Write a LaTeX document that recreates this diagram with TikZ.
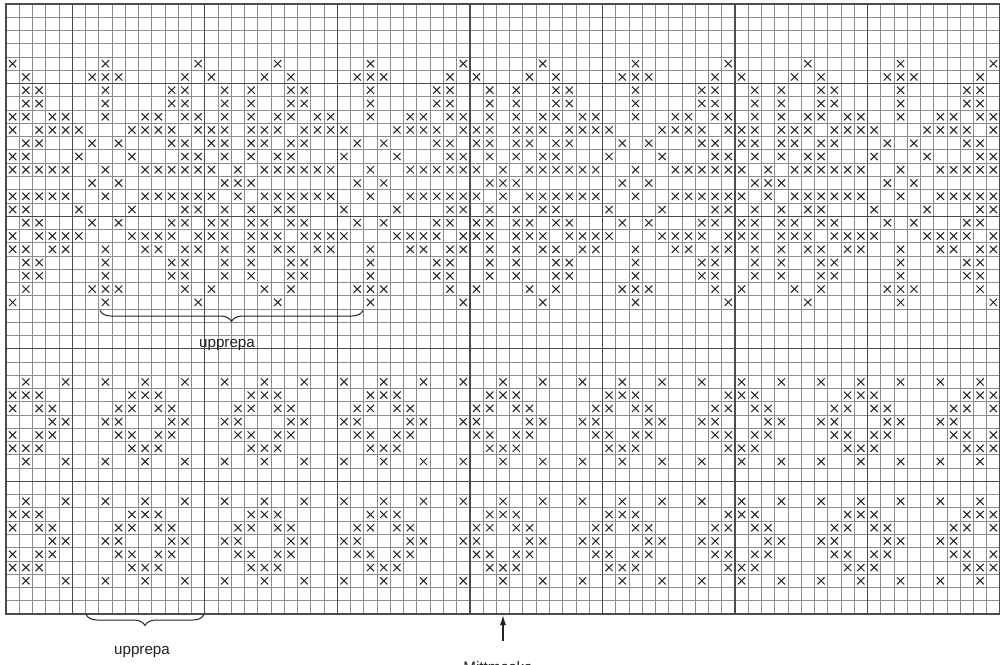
\documentclass[tikz,border=0pt]{standalone}
\usepackage{fontspec}
\setmainfont{Liberation Sans}
\usetikzlibrary{decorations.pathreplacing,arrows.meta}
\definecolor{thingrid}{RGB}{140,140,140}
\definecolor{thickgrid}{RGB}{75,75,75}
\definecolor{ink}{RGB}{35,35,35}
\def\cw{13.2533}
\def\ch{13.26}
\newcommand\drawx[2]{%
  \pgfmathsetmacro\xcx{6+(#1+0.5)*\cw}%
  \pgfmathsetmacro\ycy{4+(#2+0.5)*\ch}%
  \draw[xm] ({\xcx-3.6},{\ycy-3.6}) -- ({\xcx+3.6},{\ycy+3.6}) ({\xcx-3.6},{\ycy+3.6}) -- ({\xcx+3.6},{\ycy-3.6});}
\begin{document}
\begin{tikzpicture}[x=1pt,y=-1pt,
  thinline/.style={draw=thingrid,line width=0.8pt},
  thickline/.style={draw=thickgrid,line width=1.3pt},
  xm/.style={draw=ink,line width=1pt},
  lbl/.style={font=\fontsize{15.2}{18}\selectfont, text=ink, inner sep=0pt, anchor=base},
  bracestyle/.style={draw=ink,line width=1pt,decorate,decoration={brace,mirror,amplitude=11pt}}
]
\useasboundingbox (0,0) rectangle (1000,664);
\fill[white] (0,0) rectangle (1000,664);
% thin grid
\foreach \i in {0,...,75} \draw[thinline] ({6+\i*\cw},4) -- ({6+\i*\cw},614);
\foreach \j in {0,...,46} \draw[thinline] (6,{4+\j*\ch}) -- (1000,{4+\j*\ch});
% thick grid
\foreach \i in {5,15,...,65} \draw[thickline] ({6+\i*\cw},4) -- ({6+\i*\cw},614);
\foreach \j in {6,16,26,36} \draw[thickline] (6,{4+\j*\ch}) -- (1000,{4+\j*\ch});
\draw[thickline] (6,4) rectangle (1000,614);
% upper pattern (period 20)
\foreach \rows/\lst in {{4,22}/{0,7,14}, {5,21}/{1,6,7,8,13,15,19}, {6,7,19,20}/{1,2,7,12,13,16,18}, {8,18}/{0,1,3,4,7,10,11,13,14,16,18}, {9,17}/{0,2,3,4,5,9,10,11,12,14,15,16,18,19}, {10,16}/{1,2,6,8,12,13,15,16,18,19}, {11,15}/{0,1,5,9,13,14,16,18}, {12,14}/{0,1,2,3,4,7,10,11,12,13,14,15,17,19}, {13}/{6,8,16,17,18}} {
  \foreach \r in \rows {
    \foreach \b in {0,20,40,60} {
      \foreach \m in \lst {
        \pgfmathtruncatemacro\cc{\b+\m}
        \ifnum\cc<75 \drawx{\cc}{\r}\fi
      }
    }
  }
}
% lower patterns (period 9)
\foreach \rows/\lst/\per in {{28,34,37,43}/{1}/3, {29,33,38,42}/{0,1,2}/9, {30,32,39,41}/{0,2,3,8}/9, {31,40}/{3,4,7,8}/9} {
  \foreach \r in \rows {
    \foreach \n in {0,...,24} {
      \foreach \m in \lst {
        \pgfmathtruncatemacro\cc{\n*\per+\m}
        \ifnum\cc<75 \drawx{\cc}{\r}\fi
      }
    }
  }
}
% braces and labels
\coordinate (ub1) at (100,310.5);
\coordinate (ub2) at (363,310.5);
\draw[bracestyle] (ub1) -- (ub2);
\node[lbl] (up1) at (227,347.3) {upprepa};
\coordinate (lb1) at (86,614.5);
\coordinate (lb2) at (204,614.5);
\draw[bracestyle] (lb1) -- (lb2);
\node[lbl] (up2) at (142,654) {upprepa};
\coordinate (arrS) at (503,641);
\coordinate (arrE) at (503,615);
\draw[draw=ink, line width=1.3pt, -{Latex[length=10pt,width=6pt]}] (arrS) -- (arrE);
\node[lbl] (mid) at (498,672.6) {Mittmaska};
\end{tikzpicture}
\end{document}
